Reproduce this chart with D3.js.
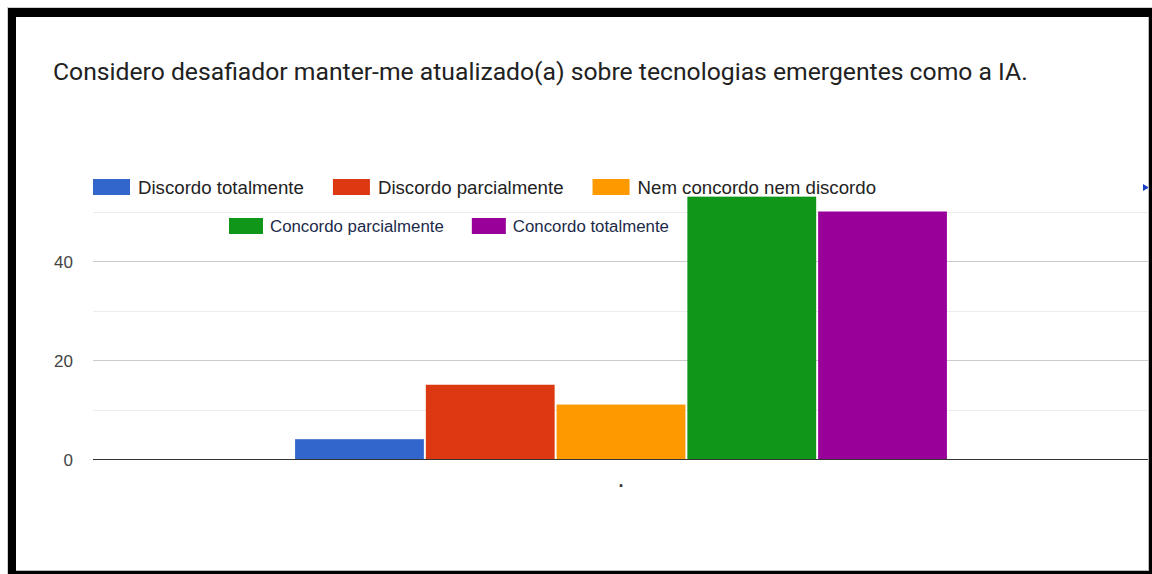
<!DOCTYPE html>
<html>
<head>
<meta charset="utf-8">
<script src="https://cdn.jsdelivr.net/npm/d3@7"></script>
<style>
  html, body { margin: 0; padding: 0; background: #fff; }
  svg { display: block; }
</style>
</head>
<body>
<svg id="chart" width="1152" height="574"></svg>
<script>
const title = "Considero desafiador manter-me atualizado(a) sobre tecnologias emergentes como a IA.";
const categories = ["."];
const seriesNames = ["Discordo totalmente", "Discordo parcialmente", "Nem concordo nem discordo", "Concordo parcialmente", "Concordo totalmente"];
const seriesValues = [4, 15, 11, 53, 50];
const seriesColors = ["#3366cc", "#dc3912", "#ff9900", "#109618", "#990099"];
const yTickLabels = [0, 20, 40];
const yMinorTicks = [10, 30, 50];

const svg = d3.select("#chart");
const W = 1152, H = 574;

svg.append("rect").attr("x", 0).attr("y", 0).attr("width", W).attr("height", H).attr("fill", "#fff");

const plot = { left: 93, right: 1149, top: 162, bottom: 459 };

const y = d3.scaleLinear().domain([0, 60]).range([plot.bottom, plot.top]);
const x0 = d3.scaleBand().domain(categories).range([plot.left, plot.right]).paddingInner(0).paddingOuter(0.31);
const x1 = d3.scaleBand().domain(seriesNames).range([0, x0.bandwidth()]).paddingInner(0.015).paddingOuter(0);

// minor gridlines
svg.append("g").selectAll("line").data(yMinorTicks).join("line")
  .attr("x1", plot.left).attr("x2", plot.right)
  .attr("y1", d => Math.round(y(d)) + 0.5).attr("y2", d => Math.round(y(d)) + 0.5)
  .attr("stroke", "#ececec").attr("stroke-width", 1);

// major gridlines
svg.append("g").selectAll("line").data(yTickLabels.filter(d => d !== 0)).join("line")
  .attr("x1", plot.left).attr("x2", plot.right)
  .attr("y1", d => Math.round(y(d)) + 0.5).attr("y2", d => Math.round(y(d)) + 0.5)
  .attr("stroke", "#cccccc").attr("stroke-width", 1);

// y labels
const yAxis = d3.axisLeft(y).tickValues(yTickLabels).tickSize(0).tickPadding(0);
const yg = svg.append("g").attr("transform", `translate(${plot.left - 20},0)`).call(yAxis);
yg.select(".domain").remove();
yg.selectAll("text")
  .attr("font-family", "'Liberation Sans', Arial, sans-serif")
  .attr("font-size", 17).attr("fill", "#444").attr("dy", "0.36em");

// bars
const groups = svg.append("g").selectAll("g").data(categories).join("g")
  .attr("transform", d => `translate(${x0(d)},0)`);
groups.selectAll("rect").data(() => seriesNames.map((n, i) => ({ name: n, value: seriesValues[i], color: seriesColors[i] })))
  .join("rect")
  .attr("x", d => x1(d.name))
  .attr("width", x1.bandwidth())
  .attr("y", d => y(d.value))
  .attr("height", d => y(0) - y(d.value))
  .attr("fill", d => d.color);

// baseline
svg.append("line")
  .attr("x1", plot.left).attr("x2", plot.right)
  .attr("y1", Math.round(y(0)) + 0.5).attr("y2", Math.round(y(0)) + 0.5)
  .attr("stroke", "#333").attr("stroke-width", 1);

// x category label
const xAxis = d3.axisBottom(x0).tickSize(0).tickPadding(0);
const xg = svg.append("g").attr("transform", `translate(0,${plot.bottom + 28})`).call(xAxis);
xg.select(".domain").remove();
xg.selectAll("text").attr("font-family", "'Liberation Sans', Arial, sans-serif")
  .attr("font-size", 18).attr("font-weight", "bold").attr("fill", "#333").attr("dy", "0");

// title
const t = svg.append("text").attr("x", 53).attr("y", 80)
  .attr("font-family", "Roboto, 'Noto Sans', sans-serif")
  .attr("font-size", 22).attr("fill", "#212121").text(title);
{
  const len = t.node().getComputedTextLength();
  t.attr("font-size", 22 * 975 / len);
}

// legend
const legendFont = "'Liberation Sans', Arial, sans-serif";
const measure = svg.append("text").attr("font-family", legendFont).attr("font-size", 18).text(seriesNames[0]);
const lfs1 = 18 * 166 / measure.node().getComputedTextLength();
measure.text(seriesNames[3]);
const lfs2 = 18 * 174 / measure.node().getComputedTextLength();
measure.remove();

const rows = [
  { items: [0, 1, 2], x: 93, sy: 179, ty: 193.5, color: "#222", fs: lfs1, sw: 37, tgap: 45, gap: 29 },
  { items: [3, 4], x: 229, sy: 218, ty: 232, color: "#1c2a4a", fs: lfs2, sw: 34, tgap: 41, gap: 28 }
];
rows.forEach(row => {
  let cx = row.x;
  row.items.forEach(i => {
    svg.append("rect").attr("x", cx).attr("y", row.sy).attr("width", row.sw).attr("height", 16)
      .attr("fill", seriesColors[i]);
    const tx = svg.append("text").attr("x", cx + row.tgap).attr("y", row.ty)
      .attr("font-family", legendFont).attr("font-size", row.fs).attr("fill", row.color).text(seriesNames[i]);
    cx = cx + row.tgap + tx.node().getComputedTextLength() + row.gap;
  });
});

// legend paging arrow (clipped)
svg.append("path").attr("d", "M1143,184 L1149,187.5 L1143,191 Z").attr("fill", "#1a3fc4");

// frame
svg.append("rect").attr("x", 7.5).attr("y", 7.5).attr("width", 1145).attr("height", 570).attr("fill", "none").attr("stroke", "#cfcfcf").attr("stroke-width", 1);
svg.append("rect").attr("x", 8).attr("y", 8).attr("width", 1144).attr("height", 9).attr("fill", "#000");
svg.append("rect").attr("x", 8).attr("y", 8).attr("width", 8).attr("height", 566).attr("fill", "#000");
svg.append("rect").attr("x", 1149).attr("y", 8).attr("width", 3).attr("height", 566).attr("fill", "#000");
svg.append("rect").attr("x", 8).attr("y", 571).attr("width", 1144).attr("height", 3).attr("fill", "#000");
svg.append("line").attr("x1", 16).attr("x2", 1149).attr("y1", 570.5).attr("y2", 570.5).attr("stroke", "#bbb");
svg.append("line").attr("x1", 1148.5).attr("x2", 1148.5).attr("y1", 17).attr("y2", 571).attr("stroke", "#bbb");
</script>
</body>
</html>
